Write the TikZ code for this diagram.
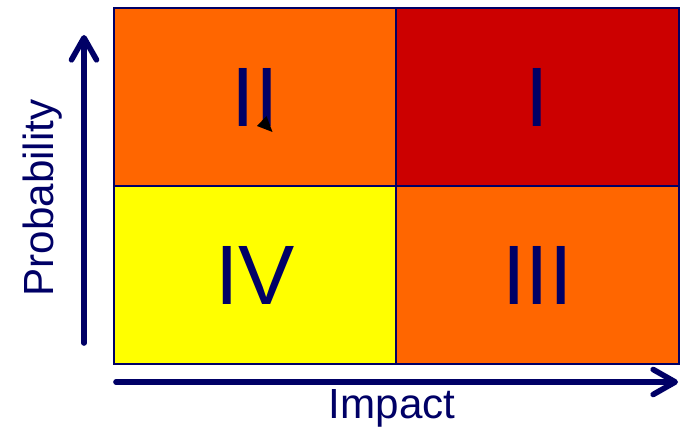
\documentclass[tikz,border=0pt]{standalone}
\usepackage{fontspec}
\setmainfont{Liberation Sans}
\usetikzlibrary{arrows.meta}
\definecolor{navy}{HTML}{000066}
\definecolor{riskred}{HTML}{CC0000}
\definecolor{riskorange}{HTML}{FF6600}
\definecolor{riskyellow}{HTML}{FFFF00}
\tikzset{
  cell/.style={draw=navy,line width=1.2pt},
  numeral/.style={text=navy,font=\fontsize{48}{52}\selectfont},
  axis/.style={draw=navy,line width=3.2pt,line cap=round,
    -{Straight Barb[length=0.44cm,width=0.5cm,round]}},
  axislabel/.style={text=navy,font=\fontsize{24}{28}\selectfont}
}
\begin{document}
\begin{tikzpicture}[x=0.02cm,y=-0.02cm]
\useasboundingbox (0,0) rectangle (687,428);
\draw[cell,fill=riskorange] (114,8) rectangle (396,186) node[midway,numeral] (q2) {II};
\draw[cell,fill=riskred] (396,8) rectangle (679,186) node[midway,numeral] (q1) {I};
\draw[cell,fill=riskyellow] (114,186) rectangle (396,364) node[midway,numeral] (q4) {IV};
\draw[cell,fill=riskorange] (396,186) rectangle (679,364) node[midway,numeral] (q3) {III};
\fill[black] (257,126) -- (266.5,116) -- (272.5,132) -- cycle;
\coordinate (pstart) at (84,343);
\coordinate (pend) at (84,35);
\coordinate (istart) at (116,382);
\coordinate (iend) at (678,382);
\draw[axis] (pstart) -- (pend);
\draw[axis] (istart) -- (iend);
\node[axislabel,rotate=90] (prob) at (43,198) {Probability};
\node[axislabel] (imp) at (392,408) {Impact};
\end{tikzpicture}
\end{document}
